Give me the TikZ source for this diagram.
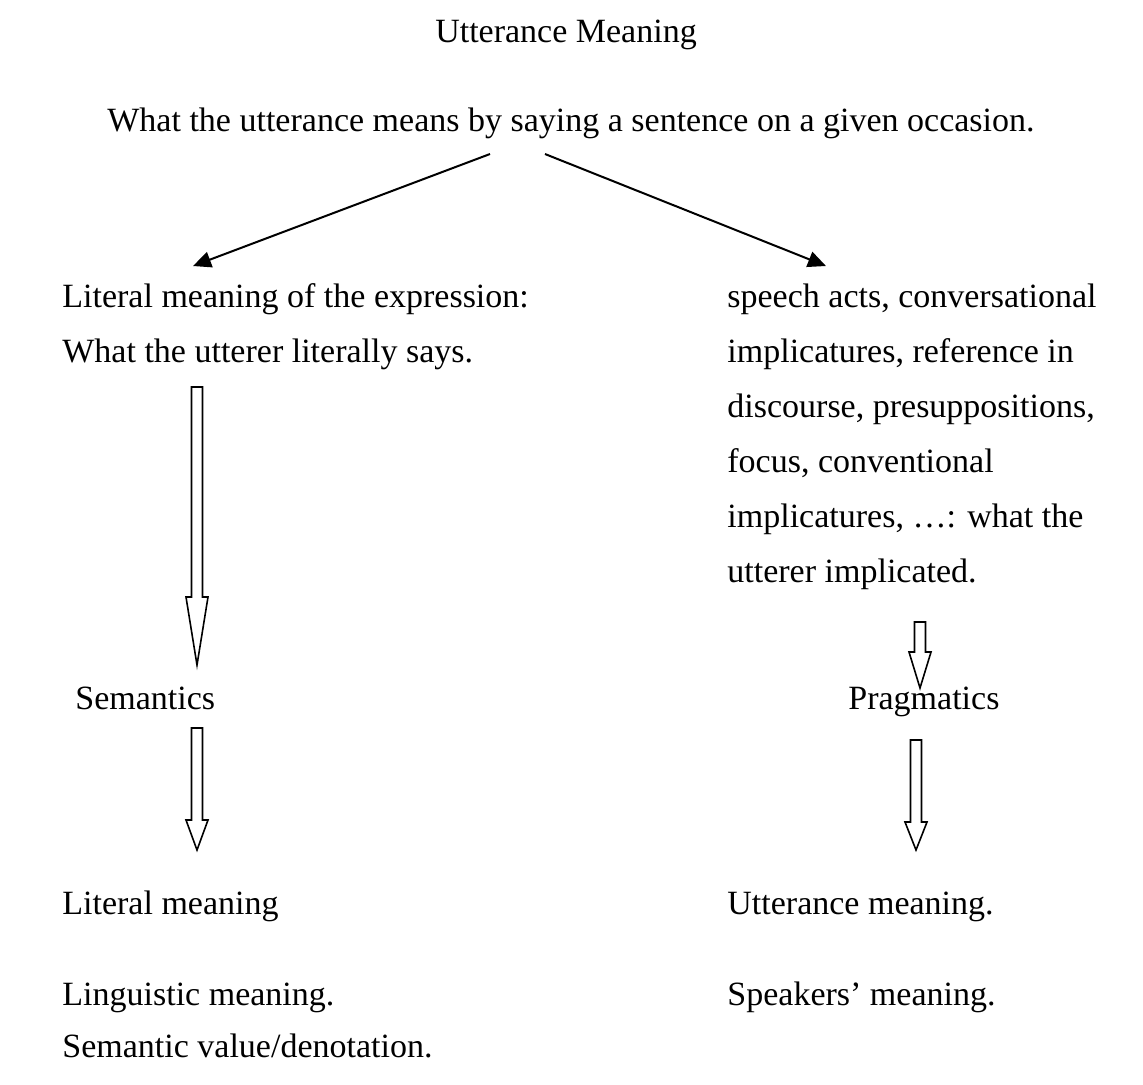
\documentclass[tikz,border=0pt]{standalone}
\usepackage{fontspec}
\setmainfont{Liberation Serif}
\usetikzlibrary{positioning}
\usetikzlibrary{arrows.meta}

\tikzset{
  txt/.style={anchor=base west, inner sep=0pt, font=\fontsize{17}{20}\selectfont},
  link/.style={line width=1pt, -{Triangle[length=9pt,width=8pt]}},
  hollow/.style={line width=0.8pt},
}

% hollow down arrow: x, top, neck, tip
\newcommand{\downbox}[4]{%
  \draw[hollow] (#1-5.5,#2) -- (#1+5.5,#2) -- (#1+5.5,#3) -- (#1+11,#3)
    -- (#1,#4) -- (#1-11,#3) -- (#1-5.5,#3) -- cycle;}

\begin{document}
\begin{tikzpicture}[x=0.5pt,y=-0.5pt]
\useasboundingbox (0,0) rectangle (1143,1084);

\node[txt, anchor=base] (title) at (566,42) {Utterance Meaning};
\node[txt] (what) at (107,131) {What the utterance means by saying a sentence on a given occasion.};

% left column
\node[txt] (lit1) at (62,307) {Literal meaning of the expression:};
\node[txt] (lit2) at (62,362) {What the utterer literally says.};
\node[txt] (sem) at (75,709) {Semantics};
\node[txt] (litm) at (62,914) {Literal meaning};
\node[txt] (ling) at (62,1005) {Linguistic meaning.};
\node[txt] (semv) at (62,1057) {Semantic value/denotation.};

% right column
\node[txt] (r1) at (727,307) {speech acts, conversational};
\node[txt] (r2) at (727,362) {implicatures, reference in};
\node[txt] (r3) at (727,417) {discourse, presuppositions,};
\node[txt] (r4) at (727,472) {focus, conventional};
\node[txt] (r5) at (727,527) {implicatures, \dots: what the};
\node[txt] (r6) at (727,582) {utterer implicated.};
\node[txt] (prag) at (848,709) {Pragmatics};
\node[txt] (utm) at (727,914) {Utterance meaning.};
\node[txt] (spk) at (727,1005) {Speakers' meaning.};

\coordinate (whatL) at (490,154);
\coordinate (whatR) at (545,154);
\coordinate (litTop) at (193,266);
\coordinate (impTop) at (826,266);
\draw[link] (whatL) -- (litTop);
\draw[link] (whatR) -- (impTop);

\downbox{197}{387}{597}{665}
\downbox{197}{728}{820}{850}
\downbox{920}{622}{652}{688}
\downbox{916}{740}{822}{850}
\end{tikzpicture}
\end{document}
